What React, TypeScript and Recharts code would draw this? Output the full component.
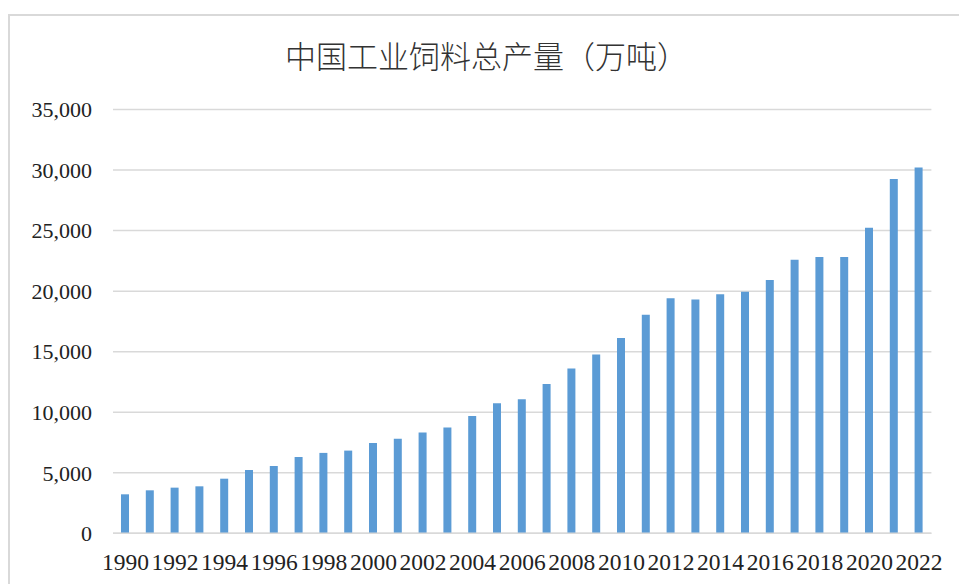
import React from "react";
import { BarChart, Bar, XAxis, YAxis, CartesianGrid } from "recharts";

const years: string[] = [
  "1990", "1991", "1992", "1993", "1994", "1995", "1996", "1997", "1998", "1999",
  "2000", "2001", "2002", "2003", "2004", "2005", "2006", "2007", "2008", "2009",
  "2010", "2011", "2012", "2013", "2014", "2015", "2016", "2017", "2018", "2019",
  "2020", "2021", "2022",
];

const output: number[] = [
  3220, 3550, 3770, 3880, 4510, 5230, 5560, 6300, 6640, 6830,
  7460, 7800, 8320, 8730, 9690, 10740, 11070, 12320, 13600, 14760,
  16120, 18040, 19420, 19310, 19750, 19940, 20910, 22590, 22810, 22820,
  25230, 29260, 30220,
];

const yTicks: number[] = [0, 5000, 10000, 15000, 20000, 25000, 30000, 35000];

const title = "中国工业饲料总产量（万吨）";

const data = years.map((y, i) => ({ year: y, value: output[i] }));

const fmt = (v: number) => v.toLocaleString("en-US");

export default function App() {
  return (
    <div
      style={{
        position: "absolute",
        left: 0,
        top: 0,
        width: 959,
        height: 584,
        overflow: "hidden",
        background: "#fff",
      }}
    >
      <div
        style={{
          position: "absolute",
          left: 8,
          top: 14,
          width: 1200,
          height: 800,
          borderLeft: "2.5px solid #D9D9D9",
          borderTop: "2.5px solid #D9D9D9",
        }}
      />
      <div
        style={{
          position: "absolute",
          left: 0,
          width: 973,
          top: 36,
          textAlign: "center",
          fontFamily: "'Noto Sans CJK SC', sans-serif",
          fontSize: 31,
          lineHeight: "38px",
          color: "#333",
          fontWeight: 300,
        }}
      >
        {title}
      </div>
      <div style={{ position: "absolute", left: 0, top: 0 }}>
        <BarChart
          width={959}
          height={584}
          data={data}
          margin={{ top: 109.5, right: 27.6, left: 13, bottom: 10.7 }}
          barSize={8}
        >
          <CartesianGrid vertical={false} stroke="#D9D9D9" strokeWidth={1.5} />
          <XAxis
            dataKey="year"
            interval={1}
            height={40}
            tickLine={false}
            tickSize={0}
            tickMargin={20}
            axisLine={{ stroke: "#D9D9D9", strokeWidth: 1.5 }}
            tick={{ fill: "#222", fontSize: 23.5, fontFamily: "'Liberation Serif', 'Times New Roman', serif" }}
          />
          <YAxis
            width={100}
            domain={[0, 35000]}
            ticks={yTicks}
            tickFormatter={fmt}
            axisLine={false}
            tickLine={false}
            tickSize={0}
            tickMargin={21}
            tick={{ fill: "#222", fontSize: 22, fontFamily: "'Liberation Serif', 'Times New Roman', serif" }}
          />
          <Bar dataKey="value" fill="#5B9BD5" isAnimationActive={false} />
        </BarChart>
      </div>
    </div>
  );
}
